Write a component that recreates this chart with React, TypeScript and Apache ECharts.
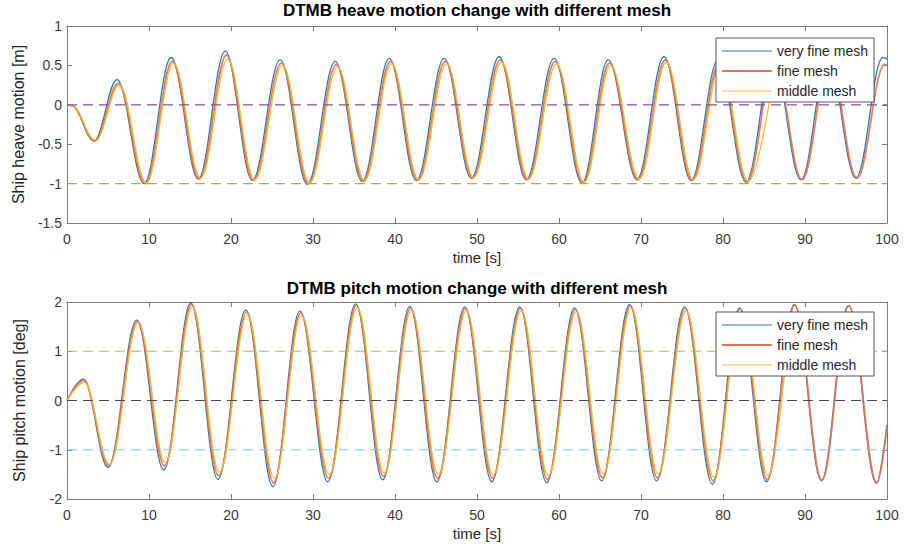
import React, { useEffect, useRef } from 'react';
import * as echarts from 'echarts';

// ---------- data (time [s], value), extrema of each oscillation ----------
const heaveVeryFine: [number, number][] = [
  [0, 0], [0.6, -0.01], [3.3, -0.46], [6.1, 0.32], [9.4, -1.0], [12.7, 0.6], [16.0, -0.94], [19.3, 0.68], [22.6, -0.96],
  [26.0, 0.57], [29.3, -1.01], [32.7, 0.55], [36.0, -0.97], [39.3, 0.59], [42.6, -0.96], [46.0, 0.59],
  [49.3, -0.93], [52.7, 0.61], [56.0, -0.95], [59.4, 0.59], [62.8, -0.99], [66.0, 0.57], [69.5, -0.95],
  [72.8, 0.61], [76.1, -0.96], [79.4, 0.57], [82.8, -0.98], [86.1, 0.58], [89.5, -0.95], [92.8, 0.6],
  [96.2, -0.93], [99.5, 0.6], [100, 0.58],
];
const heaveFine: [number, number][] = [
  [0, 0], [0.6, -0.01], [3.4, -0.46], [6.25, 0.27], [9.55, -1.0], [12.85, 0.55], [16.15, -0.94], [19.45, 0.63], [22.75, -0.96],
  [26.15, 0.53], [29.45, -1.0], [32.85, 0.51], [36.15, -0.97], [39.45, 0.55], [42.75, -0.96], [46.15, 0.55],
  [49.45, -0.93], [52.85, 0.57], [56.15, -0.95], [59.55, 0.55], [62.95, -0.99], [66.15, 0.53], [69.65, -0.95],
  [72.95, 0.57], [76.25, -0.96], [79.55, 0.53], [82.95, -0.98], [86.25, 0.54], [89.65, -0.95], [92.95, 0.56],
  [96.35, -0.93], [99.7, 0.51], [100, 0.5],
];
const heaveMiddle: [number, number][] = [
  [0, 0], [0.6, -0.01], [3.5, -0.45], [6.4, 0.25], [9.7, -0.99], [13.0, 0.53], [16.3, -0.93], [19.6, 0.58], [22.9, -0.95],
  [26.3, 0.5], [29.6, -0.99], [33.0, 0.48], [36.3, -0.96], [39.6, 0.52], [42.9, -0.95], [46.3, 0.52],
  [49.6, -0.92], [53.0, 0.54], [56.3, -0.94], [59.7, 0.52], [63.1, -0.98], [66.3, 0.5], [69.8, -0.94],
  [73.1, 0.54], [76.4, -0.95], [79.7, 0.5], [83.1, -0.97], [86.4, 0.51],
];

const pitchVeryFine: [number, number][] = [
  [0, 0], [2.0, 0.44], [5.0, -1.36], [8.5, 1.63], [11.8, -1.41], [15.1, 1.98], [18.4, -1.6], [21.8, 1.84],
  [25.1, -1.75], [28.4, 1.82], [31.8, -1.65], [35.2, 1.96], [38.5, -1.61], [41.8, 1.91], [45.1, -1.65],
  [48.5, 1.9], [51.8, -1.65], [55.2, 1.9], [58.5, -1.67], [61.9, 1.88], [65.2, -1.63], [68.6, 1.95],
  [71.9, -1.63], [75.3, 1.9], [78.7, -1.7], [82.0, 1.88], [85.3, -1.65], [88.7, 1.95], [92.0, -1.63],
  [95.3, 1.93], [98.7, -1.68], [100, -0.5],
];
const pitchFine: [number, number][] = [
  [0, 0], [2.05, 0.41], [5.1, -1.32], [8.6, 1.61], [11.9, -1.33], [15.2, 1.95], [18.5, -1.53], [21.9, 1.8],
  [25.2, -1.67], [28.5, 1.78], [31.9, -1.58], [35.3, 1.93], [38.6, -1.54], [41.9, 1.88], [45.2, -1.58],
  [48.6, 1.87], [51.9, -1.58], [55.3, 1.87], [58.6, -1.6], [62.0, 1.85], [65.3, -1.57], [68.7, 1.92],
  [72.0, -1.57], [75.4, 1.87], [78.8, -1.63], [82.1, 1.86], [85.4, -1.6], [88.75, 1.94], [92.05, -1.62],
  [95.35, 1.92], [98.75, -1.67], [100, -0.52],
];
const pitchMiddle: [number, number][] = [
  [0, 0], [2.1, 0.37], [5.2, -1.3], [8.7, 1.58], [12.0, -1.26], [15.3, 1.9], [18.6, -1.45], [22.0, 1.74],
  [25.3, -1.58], [28.6, 1.73], [32.0, -1.5], [35.4, 1.88], [38.7, -1.47], [42.0, 1.83], [45.3, -1.5],
  [48.7, 1.82], [52.0, -1.51], [55.4, 1.82], [58.7, -1.52], [62.1, 1.8], [65.4, -1.49], [68.8, 1.87],
  [72.1, -1.49], [75.5, 1.82], [78.9, -1.56], [82.2, 1.8], [85.5, -1.53], [87.9, 1.2],
];

const seriesNames = ['very fine mesh', 'fine mesh', 'middle mesh'];
const heaveRefLevels = [0, -1];
const pitchRefLevels = [1, 0, -1];
const timeRange = [0, 100];
const heaveAxis = { min: -1.5, max: 1, interval: 0.5 };
const pitchAxis = { min: -2, max: 2, interval: 1 };
const titles = ['DTMB heave motion change with different mesh', 'DTMB pitch motion change with different mesh'];
const yNames = ['Ship heave motion [m]', 'Ship pitch motion [deg]'];
const xName = 'time [s]';

// ---------- styling ----------
const FONT = '"Liberation Sans", Arial, Helvetica, sans-serif';
const AXIS_COLOR = '#7a7a7a';
const LABEL_COLOR = '#3a3a3a';
const meshColors = ['#2b77b7', '#e2734c', '#eebb33'];
const meshWidths = [1.3, 1.8, 1.3];
const heaveRefColors = ['#8b4c9b', '#8cbf45'];
const pitchRefColors = ['#a6bb6a', '#5a3f66', '#7ecbea'];

const GRID_LEFT = 67;
const GRID_W = 820;
const GRID_H = 197;
const GRID_TOPS = [26, 302];

function xAxes(gridIndex: number) {
  const common = {
    type: 'value' as const,
    gridIndex,
    min: timeRange[0],
    max: timeRange[1],
    interval: 10,
    splitLine: { show: false },
    axisLine: { show: true, onZero: false, lineStyle: { color: AXIS_COLOR, width: 1 } },
    axisTick: { show: true, inside: true, length: 5, lineStyle: { color: AXIS_COLOR, width: 1 } },
  };
  return [
    {
      ...common,
      position: 'bottom',
      axisLabel: { color: LABEL_COLOR, fontSize: 14, fontFamily: FONT, margin: 9 },
      name: xName,
      nameLocation: 'middle',
      nameGap: 27,
      nameTextStyle: { color: '#262626', fontSize: 15, fontFamily: FONT },
    },
    { ...common, position: 'top', axisLabel: { show: false } },
  ];
}

function yAxes(gridIndex: number, rng: { min: number; max: number; interval: number }, name: string) {
  const common = {
    type: 'value' as const,
    gridIndex,
    min: rng.min,
    max: rng.max,
    interval: rng.interval,
    splitLine: { show: false },
    axisLine: { show: true, onZero: false, lineStyle: { color: AXIS_COLOR, width: 1 } },
    axisTick: { show: true, inside: true, length: 5, lineStyle: { color: AXIS_COLOR, width: 1 } },
  };
  return [
    {
      ...common,
      position: 'left',
      axisLabel: { color: LABEL_COLOR, fontSize: 14, fontFamily: FONT, margin: 5 },
      name,
      nameLocation: 'middle',
      nameGap: 40,
      nameRotate: 90,
      nameTextStyle: { color: '#262626', fontSize: 16, fontFamily: FONT },
    },
    { ...common, position: 'right', axisLabel: { show: false } },
  ];
}

function meshSeries(datasets: [number, number][][], axisIndex: number) {
  return datasets.map((d, i) => ({
    type: 'line',
    name: seriesNames[i],
    xAxisIndex: axisIndex,
    yAxisIndex: axisIndex,
    data: d,
    showSymbol: false,
    symbol: 'none',
    smooth: 0.37,
    smoothMonotone: 'x',
    lineStyle: { color: meshColors[i], width: meshWidths[i], opacity: i === 1 ? 0.9 : 1 },
    itemStyle: { color: meshColors[i] },
    z: 2 + i,
    silent: true,
  }));
}

function refSeries(levels: number[], colors: string[], axisIndex: number) {
  return levels.map((v, i) => ({
    type: 'line',
    name: 'ref' + axisIndex + '_' + i,
    xAxisIndex: axisIndex,
    yAxisIndex: axisIndex,
    data: [[timeRange[0], v], [timeRange[1], v]],
    showSymbol: false,
    symbol: 'none',
    lineStyle: { color: colors[i], width: 1.2, type: [10, 6] },
    z: 6,
    silent: true,
  }));
}

const legendIcons = [
  'path://M0,0L0,0M0,6.4H50V7.6H0ZM50,14L50,14',
  'path://M0,0L0,0M0,6H50V8H0ZM50,14L50,14',
  'path://M0,0L0,0M0,6.4H50V7.6H0ZM50,14L50,14',
];

function legend(top: number) {
  return {
    orient: 'vertical',
    left: 716,
    top,
    padding: [6, 6, 4, 6],
    itemWidth: 50,
    itemHeight: 14,
    itemGap: 6,
    backgroundColor: '#ffffff',
    borderColor: '#555555',
    borderWidth: 1,
    borderRadius: 0,
    selectedMode: false,
    itemStyle: { borderWidth: 0 },
    textStyle: { color: '#262626', fontSize: 14, fontFamily: FONT, lineHeight: 14 },
    data: seriesNames.map((n, i) => ({ name: n, icon: legendIcons[i] })),
    z: 10,
  };
}

const option = {
  animation: false,
  backgroundColor: '#ffffff',
  grid: GRID_TOPS.map((t) => ({ left: GRID_LEFT, top: t, width: GRID_W, height: GRID_H, containLabel: false })),
  xAxis: [...xAxes(0), ...xAxes(1)],
  yAxis: [...yAxes(0, heaveAxis, yNames[0]), ...yAxes(1, pitchAxis, yNames[1])],
  legend: [legend(38), legend(312)],
  graphic: [
    {
      type: 'text',
      x: GRID_LEFT + GRID_W / 2,
      y: 10,
      style: { text: titles[0], fill: '#000', fontSize: 17, fontWeight: 'bold', fontFamily: FONT, align: 'center', verticalAlign: 'middle' },
    },
    {
      type: 'text',
      x: GRID_LEFT + GRID_W / 2,
      y: 288,
      style: { text: titles[1], fill: '#000', fontSize: 17, fontWeight: 'bold', fontFamily: FONT, align: 'center', verticalAlign: 'middle' },
    },
  ],
  series: [
    ...meshSeries([heaveVeryFine, heaveFine, heaveMiddle], 0),
    ...refSeries(heaveRefLevels, heaveRefColors, 0),
    ...meshSeries([pitchVeryFine, pitchFine, pitchMiddle], 2),
    ...refSeries(pitchRefLevels, pitchRefColors, 2),
  ],
};

export default function App() {
  const ref = useRef<HTMLDivElement>(null);
  useEffect(() => {
    document.body.style.margin = '0';
    const chart = echarts.init(ref.current as HTMLDivElement, undefined, { renderer: 'svg' });
    chart.setOption(option as any);
    return () => chart.dispose();
  }, []);
  return (
    <div
      ref={ref}
      style={{ position: 'fixed', left: 0, top: 0, width: 904, height: 553, background: '#ffffff' }}
    />
  );
}
